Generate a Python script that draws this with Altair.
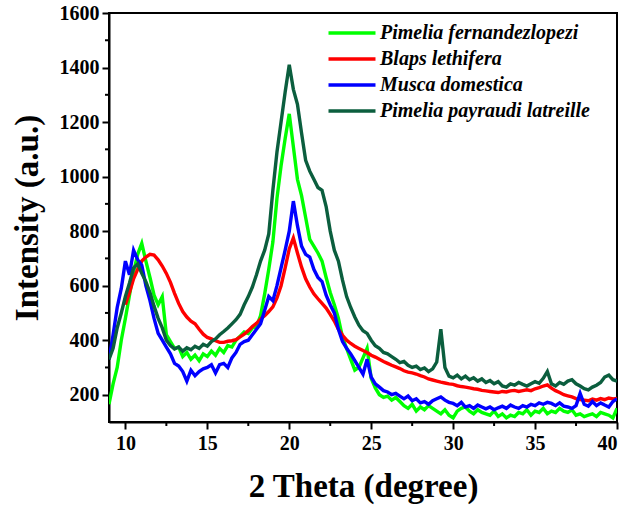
import altair as alt
import numpy as np
import pandas as pd

theta = [round(9 + 0.25 * i, 2) for i in range(125)]

names = ["Pimelia fernandezlopezi", "Blaps lethifera", "Musca domestica",
         "Pimelia payraudi latreille"]
colors = ["#00ff00", "#ff0000", "#0000ff", "#0b5e3e"]

green = [165, 240, 300, 400, 480, 565, 650, 715, 755, 690, 630, 565, 530, 560, 420, 395,
         370, 375, 340, 355, 330, 345, 325, 350, 340, 360, 345, 370, 355, 380, 375, 400,
         415, 430, 425, 445, 450, 490, 570, 660, 760, 920, 1040, 1140, 1230, 1110, 990, 930,
         850, 770, 745, 720, 690, 630, 575, 530, 480, 410, 370, 330, 290, 300, 335, 370,
         260, 225, 200, 190, 195, 180, 190, 175, 160, 150, 165, 140, 155, 145, 160, 150,
         140, 130, 145, 125, 115, 140, 150, 155, 140, 130, 145, 135, 130, 125, 140, 120,
         130, 115, 125, 120, 135, 130, 145, 125, 140, 135, 150, 130, 140, 135, 150, 140,
         135, 145, 125, 130, 120, 125, 130, 120, 135, 130, 125, 115, 150]

red = [None, None, None, None,
       530, 575, 625, 660, 690, 705, 715, 712, 695, 672, 645, 612,
       572, 535, 505, 485, 470, 460, 440, 422, 410, 405, 398, 392, 392, 396, 398, 402,
       412, 422, 435, 450, 462, 478, 490, 505, 522, 555, 600, 665, 735, 775, 720, 668,
       625, 595, 570, 552, 535, 518, 495, 470, 440, 418, 400, 388, 378, 370, 362, 355,
       345, 338, 330, 322, 315, 308, 302, 296, 288, 283, 280, 276, 270, 265, 258, 254,
       250, 246, 243, 240, 238, 233, 230, 228, 225, 222, 220, 216, 214, 212, 210, 208,
       212, 210, 214, 216, 212, 215, 218, 215, 222, 226, 232, 236, 224, 215, 208, 200,
       196, 192, 186, 182, 180, 178, 184, 180, 186, 182, 188, 185, 186]

blue = [330, 420, 520, 590, 690, 640, 730, 695, 675, 600, 545, 480, 425, 400, 375, 350,
        315, 305, 285, 250, 290, 270, 285, 295, 300, 310, 280, 310, 315, 300, 335, 355,
        385, 395, 400, 420, 440, 460, 510, 560, 545, 600, 665, 730, 800, 910, 820, 745,
        715, 705, 660, 630, 615, 565, 530, 500, 440, 395, 370, 350, 325, 300, 275, 330,
        265, 240, 228, 215, 210, 200, 205, 195, 185, 195, 178, 185, 170, 175, 165, 178,
        185, 192, 180, 172, 168, 160, 172, 155, 160, 150, 162, 155, 148, 155, 145, 152,
        158, 150, 162, 155, 150, 160, 155, 165, 160, 170, 165, 172, 168, 160, 170, 158,
        155, 150, 160, 205, 165, 158, 175, 160, 170, 162, 155, 175, 185]

dark = [330, 370, 445, 500, 560, 610, 665, 680, 645, 615, 575, 525, 480, 445, 400, 380,
        368, 375, 360, 372, 365, 378, 370, 385, 378, 395, 405, 420, 432, 445, 460, 475,
        495, 530, 560, 595, 640, 690, 730, 790, 950, 1090, 1200, 1310, 1410, 1320, 1265, 1160,
        1060, 1020, 990, 960, 950, 890, 800, 730, 690, 620, 560, 520, 485, 455, 435, 425,
        400, 380, 370, 355, 350, 340, 330, 318, 322, 308, 300, 305, 292, 298, 285, 295,
        320, 440, 300, 268, 262, 272, 258, 268, 255, 262, 250, 258, 245, 252, 240, 248,
        232, 228, 240, 235, 245, 238, 232, 240, 248, 242, 260, 285, 240, 232, 245, 238,
        250, 255, 240, 232, 222, 218, 228, 235, 245, 265, 272, 255, 250]

x_ticks = [10, 15, 20, 25, 30, 35, 40]
x_minor = [12.5, 17.5, 22.5, 27.5, 32.5, 37.5]
y_ticks = [200, 400, 600, 800, 1000, 1200, 1400, 1600]
y_minor = [300, 500, 700, 900, 1100, 1300, 1500]

rows = []
for name, vals in zip(names, [green, red, blue, dark]):
    for xv, yv in zip(theta, vals):
        if yv is not None:
            rows.append({"theta": xv, "intensity": yv, "series": name})
df = pd.DataFrame(rows)

FONT = "Liberation Serif"
xscale = alt.Scale(domain=[9, 40], nice=False, zero=False)
yscale = alt.Scale(domain=[100, 1600], nice=False, zero=False)
xaxis = alt.Axis(values=x_ticks, title="2 Theta (degree)", format="d",
                 labelPadding=4, titlePadding=17)
yaxis = alt.Axis(values=y_ticks, title="Intensity (a.u.)", format="d",
                 labelPadding=3, titlePadding=15)

lines = alt.Chart(df).mark_line(strokeWidth=3.4, clip=True).encode(
    x=alt.X("theta:Q", scale=xscale, axis=xaxis),
    y=alt.Y("intensity:Q", scale=yscale, axis=yaxis),
    color=alt.Color("series:N", sort=names,
                    scale=alt.Scale(domain=names, range=colors),
                    legend=alt.Legend(title=None, orient="none", legendX=233, legendY=10,
                                      symbolType="M-4,0H4", symbolSize=138,
                                      symbolStrokeWidth=3.5, labelFont=FONT,
                                      labelFontSize=20, labelFontStyle="italic",
                                      labelFontWeight="bold", labelColor="black",
                                      labelOffset=18, rowPadding=6, labelLimit=400)),
)

xm = alt.Chart(pd.DataFrame({"theta": x_minor})).mark_rule(color="black", strokeWidth=2).encode(
    x=alt.X("theta:Q", scale=xscale, axis=xaxis),
    y=alt.value(409), y2=alt.value(413),
)
ym = alt.Chart(pd.DataFrame({"intensity": y_minor})).mark_rule(color="black", strokeWidth=2).encode(
    y=alt.Y("intensity:Q", scale=yscale, axis=yaxis),
    x=alt.value(0), x2=alt.value(-4),
)

chart = alt.layer(lines, xm, ym).properties(
    width=508, height=409, autosize="none",
    padding={"left": 109, "top": 13, "right": 7, "bottom": 87},
).configure_view(stroke="black", strokeWidth=2).configure_axis(
    domainColor="black", domainWidth=2, tickColor="black", tickWidth=2, tickSize=7,
    labelFont=FONT, labelFontSize=20, labelFontWeight="bold", labelColor="black",
    titleFont=FONT, titleFontSize=33, titleFontWeight="bold", titleColor="black",
    grid=False,
)

chart.save("out.html", embed_options={"renderer": "svg", "actions": False})
